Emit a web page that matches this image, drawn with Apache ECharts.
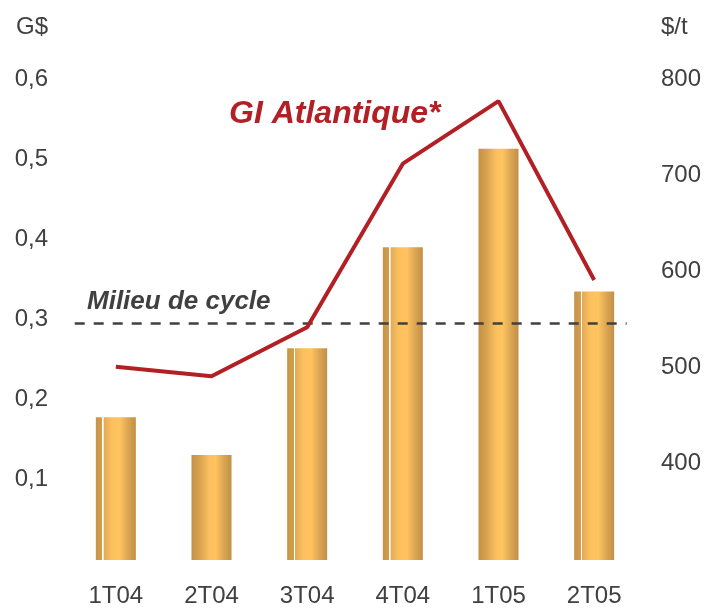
<!DOCTYPE html>
<html>
<head>
<meta charset="utf-8">
<script src="https://cdn.jsdelivr.net/npm/echarts@6/dist/echarts.min.js"></script>
<style>
	html, body { margin: 0; padding: 0; background: #fff; }
	#chart { width: 707px; height: 608px; }
</style>
</head>
<body>
<div id="chart"></div>
<script>
// trimestres
var categories = ['1T04', '2T04', '3T04', '4T04', '1T05', '2T05'];
// G$ (axe gauche)
var barValues = [0.178, 0.131, 0.264, 0.39, 0.513, 0.335];
// $/t (axe droit)
var priceValues = [501, 491, 542, 712, 777, 591];
var midCycle = 0.295;
var leftTicks = [0.1, 0.2, 0.3, 0.4, 0.5, 0.6];
var rightTicks = [400, 500, 600, 700, 800];
// barres avec le filet blanc
var splitBars = [true, false, true, true, false, true];

var TEXT_COLOR = '#404040';
var RED = '#B22025';
var FONT = 'Liberation Sans';

function barGradient(split) {
	var stops;
	if (split) {
		stops = [
			{ offset: 0, color: '#C79446' },
			{ offset: 0.16, color: '#D29E4E' },
			{ offset: 0.165, color: '#FFFFFF' },
			{ offset: 0.19, color: '#FFFFFF' },
			{ offset: 0.195, color: '#E2AA55' },
			{ offset: 0.4, color: '#FCC05E' },
			{ offset: 0.6, color: '#FFC45F' },
			{ offset: 0.8, color: '#DCA654' },
			{ offset: 1, color: '#C19046' }
		];
	} else {
		stops = [
			{ offset: 0, color: '#C39146' },
			{ offset: 0.2, color: '#D7A250' },
			{ offset: 0.45, color: '#FCC05E' },
			{ offset: 0.6, color: '#FFC45F' },
			{ offset: 0.8, color: '#DCA654' },
			{ offset: 1, color: '#C19046' }
		];
	}
	return new echarts.graphic.LinearGradient(0, 0, 1, 0, stops);
}

var barData = [];
for (var i = 0; i < barValues.length; i++) {
	barData.push({
		value: barValues[i],
		itemStyle: { color: barGradient(splitBars[i]) }
	});
}

var myChart = echarts.init(document.getElementById('chart'));
myChart.setOption({
	animation: false,
	textStyle: { fontFamily: FONT },
	grid: {
		left: 68,
		right: 65,
		top: 79,
		bottom: 47
	},
	xAxis: [{
		type: 'category',
		data: categories,
		axisLine: { show: false },
		axisTick: { show: false },
		axisLabel: {
			color: TEXT_COLOR,
			fontSize: 24,
			fontFamily: FONT,
			margin: 24
		}
	}, {
		// axe caché pour placer la ligne pointillée
		type: 'value',
		min: 0,
		max: categories.length,
		show: false
	}],
	yAxis: [{
		type: 'value',
		name: 'G$',
		nameLocation: 'end',
		nameGap: 40,
		nameTextStyle: {
			color: TEXT_COLOR,
			fontSize: 24,
			fontFamily: FONT,
			align: 'right',
			padding: [0, 20, 0, 0]
		},
		min: 0,
		max: leftTicks[leftTicks.length - 1],
		interval: 0.1,
		axisLine: { show: false },
		axisTick: { show: false },
		splitLine: { show: false },
		axisLabel: {
			showMinLabel: false,
			color: TEXT_COLOR,
			fontSize: 24,
			fontFamily: FONT,
			margin: 20,
			formatter: function (v) {
				return leftTicks.indexOf(+v.toFixed(1)) >= 0 ? v.toFixed(1).replace('.', ',') : '';
			}
		}
	}, {
		type: 'value',
		name: '$/t',
		nameLocation: 'end',
		nameGap: 40,
		nameTextStyle: {
			color: TEXT_COLOR,
			fontSize: 24,
			fontFamily: FONT,
			align: 'left',
			padding: [0, 0, 0, 19]
		},
		min: 300,
		max: rightTicks[rightTicks.length - 1],
		interval: 100,
		axisLine: { show: false },
		axisTick: { show: false },
		splitLine: { show: false },
		axisLabel: {
			showMinLabel: false,
			color: TEXT_COLOR,
			fontSize: 24,
			fontFamily: FONT,
			margin: 19
		}
	}],
	graphic: [{
		type: 'text',
		left: 229,
		top: 98,
		style: {
			text: 'GI Atlantique*',
			fill: RED,
			font: 'italic bold 32px "Liberation Sans"'
		}
	}, {
		type: 'text',
		left: 87,
		top: 289,
		style: {
			text: 'Milieu de cycle',
			fill: TEXT_COLOR,
			font: 'italic bold 26px "Liberation Sans"'
		}
	}],
	series: [{
		name: 'G$',
		type: 'bar',
		xAxisIndex: 0,
		yAxisIndex: 0,
		barWidth: 40,
		z: 1,
		data: barData
	}, {
		name: 'Milieu de cycle',
		type: 'line',
		xAxisIndex: 1,
		yAxisIndex: 0,
		symbol: 'none',
		z: 2,
		lineStyle: {
			color: TEXT_COLOR,
			width: 2.5,
			type: [10, 9]
		},
		data: [[0.07, midCycle], [5.84, midCycle]]
	}, {
		name: 'GI Atlantique*',
		type: 'line',
		xAxisIndex: 0,
		yAxisIndex: 1,
		symbol: 'none',
		z: 3,
		lineStyle: {
			color: RED,
			width: 4
		},
		data: priceValues
	}]
});
</script>
</body>
</html>
